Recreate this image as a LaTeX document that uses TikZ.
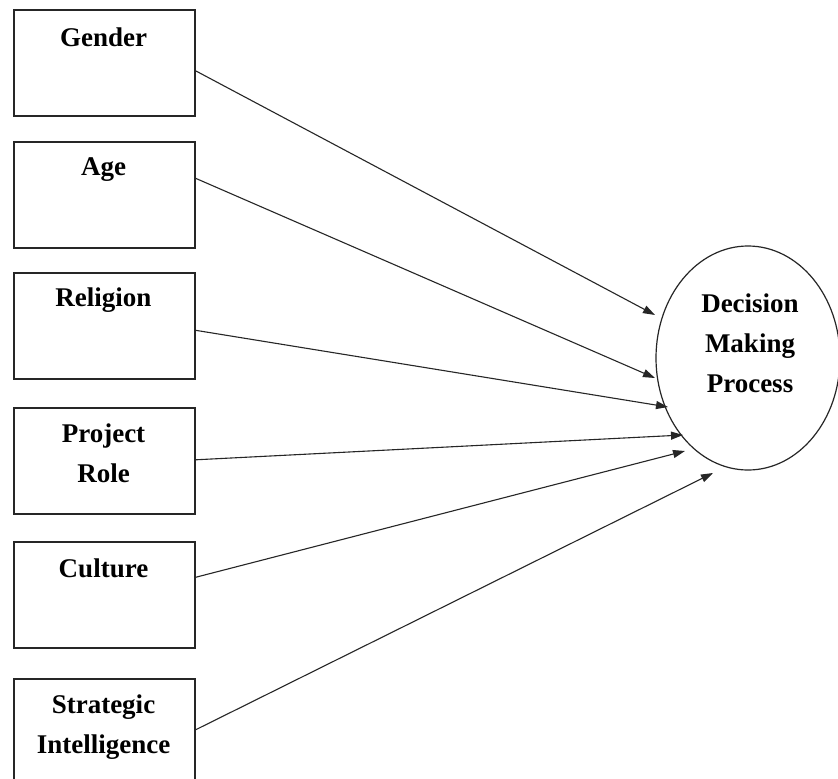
\documentclass[tikz,border=0pt]{standalone}
\usepackage{fontspec}
\setmainfont{Liberation Serif}
\usetikzlibrary{shapes.geometric,arrows.meta}
\begin{document}
\begin{tikzpicture}[x=1pt,y=1pt,
  factor/.style={draw=black!85,line width=1.6pt,rectangle,minimum width=181pt,minimum height=106pt,inner sep=0pt,anchor=north west},
  lab/.style={font=\fontsize{27}{40}\selectfont\bfseries,align=center,inner sep=0pt},
  outcome/.style={draw=black!85,line width=1.2pt,ellipse,minimum width=184pt,minimum height=224pt,inner sep=0pt},
  arr/.style={draw=black!85,line width=1.1pt,-{Triangle[length=12pt,width=8pt]}}]
\useasboundingbox (0,0) rectangle (838,-779);
\fill[white] (0,0) rectangle (838,-779);
% boxes
\node[factor] (g) at (13,-9) {};
\node[factor] (a) at (13,-141) {};
\node[factor] (r) at (13,-272) {};
\node[factor] (p) at (13,-407) {};
\node[factor] (c) at (13,-541) {};
\node[factor] (s) at (13,-678) {};
% labels
\node[lab] (tg) at (103.5,-37) {Gender};
\node[lab] (ta) at (103.5,-170) {Age};
\node[lab] (tr) at (103.5,-300) {Religion};
\node[lab] (tp) at (103.5,-453) {Project\\Role};
\node[lab] (tc) at (103.5,-568) {Culture};
\node[lab] (ts) at (103.5,-727) {Strategic\\Intelligence};
% outcome
\node[outcome] (d) at (748,-358) {};
\node[lab] (td) at (750,-343) {Decision\\Making\\Process};
% arrows
\draw[arr] ([yshift=-8pt]g.east) -- ([shift={(-93pt,43pt)}]d.center);
\draw[arr] ([yshift=16.5pt]a.east) -- ([shift={(-93pt,-20pt)}]d.center);
\draw[arr] ([yshift=-4.5pt]r.east) -- ([shift={(-80pt,-49pt)}]d.center);
\draw[arr] ([yshift=1pt]p.east) -- ([shift={(-65pt,-77pt)}]d.center);
\draw[arr] ([yshift=17.5pt]c.east) -- ([shift={(-63pt,-93pt)}]d.center);
\draw[arr] ([yshift=2pt]s.east) -- ([shift={(-35pt,-115pt)}]d.center);
\end{tikzpicture}
\end{document}
